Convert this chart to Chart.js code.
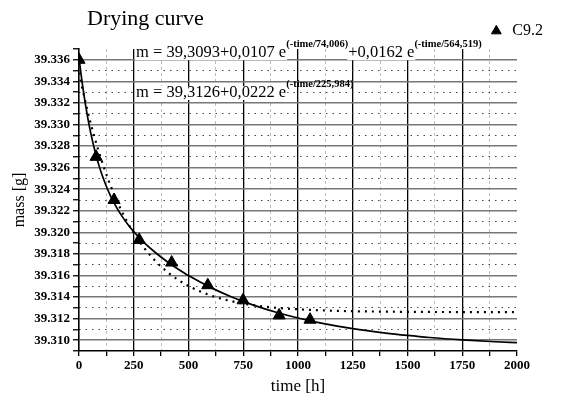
<!DOCTYPE html>
<html><head><meta charset="utf-8">
<script src="https://cdn.jsdelivr.net/npm/chart.js@4"></script>
<style>html,body{margin:0;padding:0;background:#fff}#c{display:block}</style>
</head><body>
<canvas id="c" width="561" height="403"></canvas>
<script>
// ---- data ----
const titleText = 'Drying curve';
const seriesName = 'C9.2';
const xTitle = 'time [h]';
const yTitle = 'mass [g]';

const timeMeas = [0, 78, 160, 275, 423, 588, 749, 914, 1055];
const massMeas = [39.3360, 39.3270, 39.3230, 39.3193, 39.3172, 39.3151, 39.3137, 39.3123, 39.3119];

const fitTime = [0,10,20,30,40,50,60,70,80,90,100,115,130,145,160,180,200,225,250,300,350,400,450,500,600,700,800,900,1000,1100,1250,1400,1500,1600,1750,1900,2000];
const fitDouble = [39.33620,39.33456,39.33310,39.33180,39.33062,39.32957,39.32862,39.32777,39.32699,39.32628,39.32564,39.32478,39.32402,39.32334,39.32273,39.32202,39.32139,39.32069,39.32007,39.31901,39.31811,39.31732,39.31663,39.31599,39.31490,39.31399,39.31323,39.31259,39.31206,39.31161,39.31107,39.31066,39.31044,39.31025,39.31003,39.30986,39.30977];
const fitSingle = [39.33480,39.33384,39.33292,39.33204,39.33120,39.33039,39.32962,39.32889,39.32818,39.32751,39.32686,39.32595,39.32509,39.32429,39.32354,39.32261,39.32176,39.32080,39.31994,39.31849,39.31732,39.31638,39.31563,39.31503,39.31416,39.31360,39.31324,39.31301,39.31287,39.31277,39.31269,39.31265,39.31263,39.31262,39.31261,39.31260,39.31260];

const xTicks = [0,125,250,375,500,625,750,875,1000,1125,1250,1375,1500,1625,1750,1875,2000];
const xMinorGrid = [125,375,625,875,1125,1375,1625,1875];
const yTicks = [39.309,39.310,39.311,39.312,39.313,39.314,39.315,39.316,39.317,39.318,39.319,39.320,39.321,39.322,39.323,39.324,39.325,39.326,39.327,39.328,39.329,39.330,39.331,39.332,39.333,39.334,39.335,39.336,39.337];
const yMinorGrid = [39.311,39.313,39.315,39.317,39.319,39.321,39.323,39.325,39.327,39.329,39.331,39.333,39.335];

const eq1 = [['m = 39,3093+0,0107 e', false], ['(-time/74,006)', true], ['+0,0162 e', false], ['(-time/564,519)', true]];
const eq2 = [['m = 39,3126+0,0222 e', false], ['(-time/225,984)', true]];

// ---- helpers ----
const SERIF = '"Liberation Serif", "Times New Roman", serif';
const isMajorY = v => Math.round(v * 1000) % 2 === 0;
const isMajorX = v => Math.round(v) % 250 === 0;
const pts = (xs, ys) => xs.map((x, i) => ({x: x, y: ys[i]}));

const textPlugin = {
  id: 'texts',
  afterDatasetsDraw(chart) {
    const ctx = chart.ctx;
    const a = chart.chartArea;
    ctx.save();
    ctx.fillStyle = '#000';
    ctx.textBaseline = 'alphabetic';
    ctx.textAlign = 'left';
    ctx.font = '22px ' + SERIF;
    ctx.fillText(titleText, 87, 25);
    const drawEq = (parts, x, base) => {
      parts.forEach(([t, sup]) => {
        ctx.font = sup ? 'bold 10.5px ' + SERIF : '16.5px ' + SERIF;
        const w = ctx.measureText(t).width;
        if (!sup) {
          ctx.fillStyle = '#fff';
          ctx.fillRect(x - 1, base - 11, w + 2, 14);
          ctx.fillStyle = '#000';
          ctx.fillText(t, x, base);
        } else {
          ctx.fillText(t, x, base - 10);
        }
        x += w;
      });
    };
    drawEq(eq1, a.left + 57, 57);
    drawEq(eq2, a.left + 57, 97);
    ctx.restore();
  }
};

new Chart(document.getElementById('c'), {
  type: 'scatter',
  data: {
    datasets: [
      {
        label: seriesName,
        data: pts(timeMeas, massMeas),
        pointStyle: 'triangle',
        pointRadius: 7,
        pointHoverRadius: 7,
        backgroundColor: '#000',
        borderColor: '#000',
        borderWidth: 1,
        showLine: false,
        order: 0
      },
      {
        label: 'fit2',
        data: pts(fitTime, fitDouble),
        showLine: true,
        borderColor: '#000',
        borderWidth: 1.7,
        pointRadius: 0,
        cubicInterpolationMode: 'monotone',
        order: 1
      },
      {
        label: 'fit1',
        data: pts(fitTime, fitSingle),
        showLine: true,
        borderColor: '#000',
        borderWidth: 2.2,
        borderDash: [2, 5],
        pointRadius: 0,
        cubicInterpolationMode: 'monotone',
        order: 2
      }
    ]
  },
  options: {
    responsive: false,
    animation: false,
    layout: {padding: {top: 5, left: 0, right: 0, bottom: 0}},
    plugins: {
      tooltip: {enabled: false},
      legend: {
        display: true,
        position: 'top',
        align: 'end',
        labels: {
          filter: item => item.datasetIndex === 0,
          usePointStyle: true,
          pointStyle: 'triangle',
          boxWidth: 16,
          boxHeight: 8,
          padding: 18,
          color: '#000',
          font: {family: SERIF, size: 16}
        }
      }
    },
    scales: {
      x: {
        type: 'linear',
        position: 'bottom',
        min: 0, max: 2000,
        afterBuildTicks: s => { s.ticks = xTicks.map(v => ({value: v})); },
        afterFit: s => { s.height = 52; },
        ticks: {
          autoSkip: false, maxRotation: 0, padding: 2, color: '#000',
          font: {family: SERIF, size: 13, weight: 'bold'},
          callback: v => isMajorX(v) ? String(v) : ''
        },
        grid: {
          color: c => (c.tick && isMajorX(c.tick.value) && c.tick.value > 0 && c.tick.value < 2000) ? '#000' : 'rgba(0,0,0,0)',
          lineWidth: 1.3,
          tickColor: '#000',
          tickLength: 5,
          tickWidth: 1.3
        },
        border: {display: true, color: '#000', width: 1.6},
        title: {display: true, text: xTitle, color: '#000', font: {family: SERIF, size: 17}, padding: {top: 0, bottom: 6}}
      },
      x2: {
        type: 'linear',
        position: 'bottom',
        min: 0, max: 2000,
        afterBuildTicks: s => { s.ticks = xMinorGrid.map(v => ({value: v})); },
        afterFit: s => { s.height = 0; },
        ticks: {display: false},
        grid: {color: '#bdbdbd', lineWidth: 1, drawTicks: false},
        border: {display: false, dash: [3, 3]}
      },
      y: {
        type: 'linear',
        position: 'left',
        min: 39.309, max: 39.337,
        afterBuildTicks: s => { s.ticks = yTicks.map(v => ({value: v})); },
        afterFit: s => { s.width = 79; },
        ticks: {
          autoSkip: false, padding: 3, color: '#000',
          font: {family: SERIF, size: 13, weight: 'bold'},
          callback: v => isMajorY(v) ? v.toFixed(3) : ''
        },
        grid: {
          color: c => (c.tick && isMajorY(c.tick.value)) ? '#777' : 'rgba(0,0,0,0)',
          lineWidth: 1.5,
          tickColor: '#000',
          tickLength: 6,
          tickWidth: 1.3
        },
        border: {display: true, color: '#000', width: 1.6},
        title: {display: true, text: yTitle, color: '#000', font: {family: SERIF, size: 16}, padding: {top: 10, bottom: 0}}
      },
      y2: {
        type: 'linear',
        position: 'left',
        min: 39.309, max: 39.337,
        afterBuildTicks: s => { s.ticks = yMinorGrid.map(v => ({value: v})); },
        afterFit: s => { s.width = 0; },
        ticks: {display: false},
        grid: {color: '#444', lineWidth: 1, drawTicks: false},
        border: {display: false, dash: [1.5, 5]}
      },
      yR: {
        type: 'linear',
        position: 'right',
        display: true,
        afterFit: s => { s.width = 44; },
        ticks: {display: false},
        grid: {display: false, drawTicks: false},
        border: {display: false}
      }
    }
  },
  plugins: [textPlugin]
});
</script>
</body></html>
